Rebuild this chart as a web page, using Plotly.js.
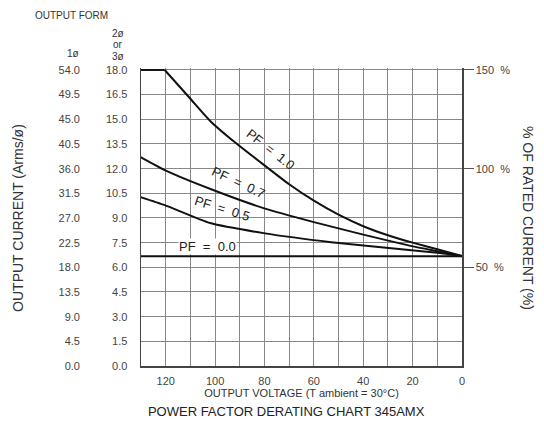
<!DOCTYPE html>
<html>
<head>
<meta charset="utf-8">
<script src="https://cdn.plot.ly/plotly-3.0.1.min.js"></script>
<style>html,body{margin:0;padding:0;background:#fff;}#chart{width:544px;height:433px;}</style>
</head>
<body>
<div id="chart"></div>
<script>
// Output voltage (V) and output current (A rms per phase, 3-phase scale)
const pf10V = [130, 120.4, 110, 102, 94, 80, 70, 60, 50, 40, 30, 20, 10, 0];
const pf10I = [18.0, 18.0, 16.25, 14.9, 13.85, 12.2, 11.05, 10.05, 9.2, 8.5, 7.95, 7.5, 7.1, 6.68];
const pf07V = [130.2, 120.4, 100.8, 80.4, 60.0, 40.8, 20.4, 10, 0];
const pf07I = [12.70, 11.91, 10.70, 9.60, 8.75, 8.02, 7.29, 6.98, 6.68];
const pf05V = [130.2, 120.4, 102, 80.4, 53, 24.5, 10, 0];
const pf05I = [10.27, 9.78, 8.69, 8.08, 7.53, 7.10, 6.88, 6.68];
const pf00V = [130.2, 0];
const pf00I = [6.68, 6.68];

const xTicks = [0, 20, 40, 60, 80, 100, 120];
const i3Ticks = [0, 1.5, 3, 4.5, 6, 7.5, 9, 10.5, 12, 13.5, 15, 16.5, 18];
const i1Ticks = [0, 4.5, 9, 13.5, 18, 22.5, 27, 31.5, 36, 40.5, 45, 49.5, 54];
const pctTicks = [50, 100, 150];
const pctLabels = ['50  %', '100  %', '150  %'];

const pfLabels = ['PF  =  1.0', 'PF  =  0.7', 'PF  =  0.5', 'PF  =  0.0'];
const pfLabelV = [77.5, 90.5, 97, 102.9];
const pfLabelI = [13.15, 11.15, 9.6, 7.28];
const pfLabelAngle = [38, 25, 17, 0];

const FONT = 'Liberation Sans, Arial, sans-serif';
const line = {color: '#111', width: 2, shape: 'spline', smoothing: 0.5};

const traces = [
  {x: pf10V.slice(0, 2), y: pf10I.slice(0, 2), mode: 'lines', line: {color: '#111', width: 2}},
  {x: pf10V.slice(1), y: pf10I.slice(1), mode: 'lines', line: line},
  {x: pf07V, y: pf07I, mode: 'lines', line: line},
  {x: pf05V, y: pf05I, mode: 'lines', line: line},
  {x: pf00V, y: pf00I, mode: 'lines', line: {color: '#111', width: 2}},
  {x: [0], y: [0], yaxis: 'y2', mode: 'none', hoverinfo: 'skip'},
  {x: [0], y: [0], yaxis: 'y3', mode: 'none', hoverinfo: 'skip'}
];

function paperNote(x, y, text, size, angle) {
  return {x: x, y: y, xref: 'paper', yref: 'paper', text: text, showarrow: false,
    xanchor: 'center', yanchor: 'middle', textangle: angle || 0,
    font: {family: FONT, size: size, color: '#333'}};
}

const annotations = [];
for (let i = 0; i < pfLabels.length; i++) {
  annotations.push({
    x: pfLabelV[i], y: pfLabelI[i], xref: 'x', yref: 'y',
    xanchor: 'center', yanchor: 'middle',
    text: pfLabels[i], showarrow: false, textangle: pfLabelAngle[i],
    font: {family: FONT, size: 13, color: '#222'},
    bgcolor: i === 3 ? '#fff' : 'rgba(0,0,0,0)', borderpad: 0
  });
}
annotations.push(
  paperNote(0.1176, 1.1745, 'OUTPUT FORM', 10),
  paperNote(0.12, 1.050, '1ø', 10),
  paperNote(0.2217, 1.117, '2ø', 10),
  paperNote(0.2217, 1.0805, 'or', 10),
  paperNote(0.2217, 1.040, '3ø', 10),
  paperNote(1.149, 0.497, '% OF RATED CURRENT (%)', 14, 90),
  paperNote(-0.0045, 0.497, 'OUTPUT CURRENT (Arms/ø)', 14, -90)
);

const layout = {
  width: 544, height: 433,
  margin: {l: 20, r: 82, t: 68, b: 67},
  paper_bgcolor: '#fff', plot_bgcolor: '#fff',
  showlegend: false,
  font: {family: FONT, size: 11, color: '#444'},
  title: {
    text: 'POWER FACTOR DERATING CHART 345AMX',
    font: {family: FONT, size: 13, color: '#222'},
    xref: 'container', yref: 'container', x: 0.526, y: 0.05, xanchor: 'center', yanchor: 'middle'
  },
  xaxis: {
    domain: [0.2738, 1], range: [130, 0], tickvals: xTicks,
    showgrid: true, gridcolor: '#888', gridwidth: 1,
    minor: {dtick: 10, tick0: 0, showgrid: true, gridcolor: '#888', gridwidth: 1},
    showline: true, linecolor: '#444', linewidth: 1.5, mirror: false,
    zeroline: false, ticks: '', ticklabelstandoff: 4,
    tickfont: {family: FONT, size: 11, color: '#444'},
    title: {text: 'OUTPUT VOLTAGE (T ambient = 30°C)', standoff: 2, font: {family: FONT, size: 11, color: '#333'}}
  },
  yaxis: {
    range: [0, 18.12], tickvals: i3Ticks, ticktext: i3Ticks.map(v => v.toFixed(1)),
    showgrid: true, gridcolor: '#888', gridwidth: 1,
    showline: true, linecolor: '#444', linewidth: 1.5, zeroline: false,
    ticks: '', ticklabelstandoff: 10,
    tickfont: {family: FONT, size: 11, color: '#444'}
  },
  yaxis2: {
    range: [0, 151], overlaying: 'y', side: 'right', anchor: 'x',
    tickvals: pctTicks, ticktext: pctLabels,
    ticks: 'outside', ticklen: 10, tickcolor: '#555', tickwidth: 1,
    showgrid: false, zeroline: false, showline: true, linecolor: '#444', linewidth: 1.5,
    tickfont: {family: FONT, size: 11, color: '#444'}
  },
  yaxis3: {
    range: [0, 54.36], overlaying: 'y', anchor: 'free', position: 0.1357, side: 'left',
    tickvals: i1Ticks, ticktext: i1Ticks.map(v => v.toFixed(1)),
    ticks: '', showgrid: false, zeroline: false, showline: false,
    tickfont: {family: FONT, size: 11, color: '#444'}
  },
  annotations: annotations
};

Plotly.newPlot('chart', traces, layout, {displayModeBar: false, staticPlot: true});
</script>
</body>
</html>
